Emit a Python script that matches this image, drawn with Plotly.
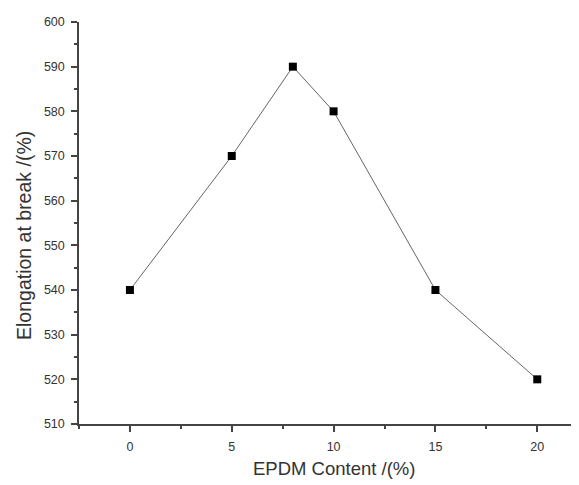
import plotly.graph_objects as go

epdm = [0, 5, 8, 10, 15, 20]
elong = [540, 570, 590, 580, 540, 520]
x_ticks = [0, 5, 10, 15, 20]
y_ticks = [510, 520, 530, 540, 550, 560, 570, 580, 590, 600]

fig = go.Figure()
fig.add_trace(go.Scatter(
    x=epdm, y=elong, mode="lines+markers",
    line=dict(color="#666666", width=1),
    marker=dict(symbol="square", size=8, color="black"),
    showlegend=False,
))

font = "Liberation Sans, Arial, sans-serif"
# page body has an 8px margin, so the figure is sized/offset to compensate
fig.update_layout(
    width=571, height=477,
    margin=dict(l=71, r=1, t=14, b=61),
    paper_bgcolor="white", plot_bgcolor="white",
    font=dict(family=font, color="#333333"),
    xaxis=dict(
        range=[-2.5, 22], tickvals=x_ticks, ticks="outside", ticklen=6, tickwidth=1.5,
        tickcolor="#444444", showline=True, linecolor="#444444", linewidth=1.5,
        showgrid=False, zeroline=False, tickfont=dict(size=12.5, family=font),
        ticklabelstandoff=4,
        minor=dict(dtick=2.5, tick0=0, ticks="outside", ticklen=3, tickwidth=1.5, tickcolor="#444444"),
    ),
    yaxis=dict(
        range=[510, 600], tickvals=y_ticks, ticks="outside", ticklen=6, tickwidth=1.5,
        tickcolor="#444444", showline=True, linecolor="#444444", linewidth=1.5,
        showgrid=False, zeroline=False, tickfont=dict(size=12.5, family=font),
        ticklabelstandoff=4,
        minor=dict(dtick=5, tick0=510, ticks="outside", ticklen=3, tickwidth=1.5, tickcolor="#444444"),
    ),
    annotations=[
        dict(text="EPDM Content /(%)", xref="paper", yref="paper", x=0.511, y=-0.11,
             xanchor="center", yanchor="middle", showarrow=False,
             font=dict(size=18.5, family=font, color="#333333")),
        dict(text="Elongation at break /(%)", xref="paper", yref="paper", x=-0.11, y=0.468,
             xanchor="center", yanchor="middle", textangle=-90, showarrow=False,
             font=dict(size=19.5, family=font, color="#333333")),
    ],
)
fig.write_html("out.html")
